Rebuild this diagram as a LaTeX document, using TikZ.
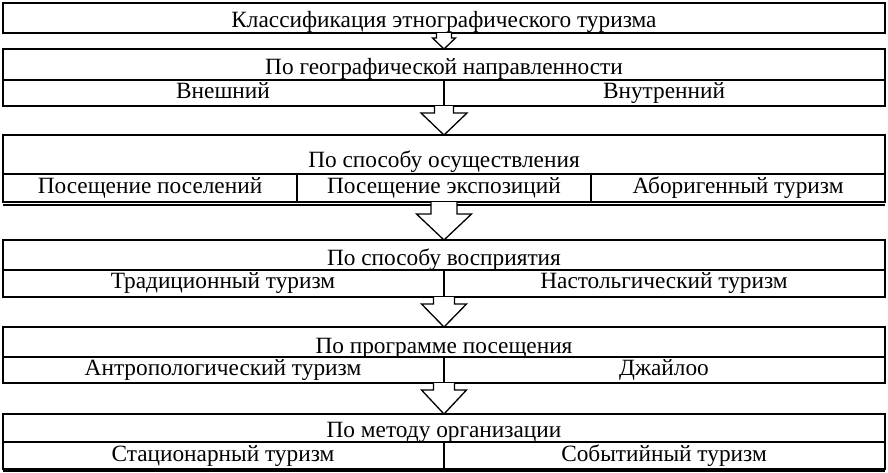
\documentclass[tikz,border=0pt]{standalone}
\usepackage{fontspec}
\setmainfont{Liberation Serif}
\usetikzlibrary{calc}
% #1 start point (node.anchor), #2 tip point (node.anchor), #3 shaft half width, #4 head half width, #5 shaft length
\newcommand\hollowarrow[5]{%
  \draw[harrow] ($(#1)+(-#3,0)$) -- ($(#1)+(-#3,#5)$) -- ($(#1)+(-#4,#5)$)
    -- (#2) -- ($(#1)+(#4,#5)$) -- ($(#1)+(#3,#5)$) -- ($(#1)+(#3,0)$);}
\begin{document}
\begin{tikzpicture}[x=1pt,y=-1pt,
  row/.style={draw, line width=1.5pt, inner sep=0pt, outer sep=0pt, anchor=north west, minimum width=882pt},
  cell/.style={draw, line width=1.5pt, inner sep=0pt, outer sep=0pt, anchor=north west},
  lbl/.style={anchor=base, inner sep=0pt, font=\fontsize{23.3}{24}\selectfont},
  harrow/.style={draw, line width=1.3pt, fill=white, line join=miter}]
\useasboundingbox (0,0) rectangle (888,472);
% box 1
\node[row, minimum height=30pt] (b1) at (3,3) {};
\node[lbl] (t1) at (444,27) {Классификация этнографического туризма};
% box 2
\node[row, minimum height=31pt] (b2t) at (3,49) {};
\node[cell, minimum width=441pt, minimum height=26pt] (b2l) at (3,80) {};
\node[cell, minimum width=441pt, minimum height=26pt] (b2r) at (444,80) {};
\node[lbl] (t2) at (444,74) {По географической направленности};
\node[lbl] (t2l) at (223,98) {Внешний};
\node[lbl] (t2r) at (664,98) {Внутренний};
% box 3
\node[row, minimum height=39pt] (b3t) at (3,135) {};
\node[cell, minimum width=294pt, minimum height=28pt] (b3a) at (3,174) {};
\node[cell, minimum width=294pt, minimum height=28pt] (b3b) at (297,174) {};
\node[cell, minimum width=294pt, minimum height=28pt] (b3c) at (591,174) {};
\draw[line width=1.2pt] ($(b3a.south west)+(0,3)$) coordinate (b3dl) -- ($(b3c.south east)+(0,3)$) coordinate (b3dr);
\node[lbl] (t3) at (444,167) {По способу осуществления};
\node[lbl] (t3a) at (150,193) {Посещение поселений};
\node[lbl] (t3b) at (444,193) {Посещение экспозиций};
\node[lbl] (t3c) at (738,193) {Аборигенный туризм};
% box 4
\node[row, minimum height=30pt] (b4t) at (3,240) {};
\node[cell, minimum width=441pt, minimum height=27pt] (b4l) at (3,270) {};
\node[cell, minimum width=441pt, minimum height=27pt] (b4r) at (444,270) {};
\node[lbl] (t4) at (444,265) {По способу восприятия};
\node[lbl] (t4l) at (223,288) {Традиционный туризм};
\node[lbl] (t4r) at (664,288) {Настольгический туризм};
% box 5
\node[row, minimum height=30pt] (b5t) at (3,327) {};
\node[cell, minimum width=441pt, minimum height=26pt] (b5l) at (3,357) {};
\node[cell, minimum width=441pt, minimum height=26pt] (b5r) at (444,357) {};
\node[lbl] (t5) at (444,353) {По программе посещения};
\node[lbl] (t5l) at (223,375) {Антропологический туризм};
\node[lbl] (t5r) at (664,375) {Джайлоо};
% box 6
\node[row, minimum height=28pt] (b6t) at (3,414) {};
\node[cell, minimum width=441pt, minimum height=27pt] (b6l) at (3,442) {};
\node[cell, minimum width=441pt, minimum height=27pt] (b6r) at (444,442) {};
\draw[line width=1.2pt] ($(b6l.south west)+(0,2)$) coordinate (b6dl) -- ($(b6r.south east)+(0,2)$) coordinate (b6dr);
\node[lbl] (t6) at (444,437) {По методу организации};
\node[lbl] (t6l) at (223,461) {Стационарный туризм};
\node[lbl] (t6r) at (664,461) {Событийный туризм};
% hollow block arrows
\hollowarrow{b1.south}{b2t.north}{7.5}{11.5}{5}
\hollowarrow{b2r.south west}{b3t.north}{9.5}{23}{7}
\hollowarrow{b3b.south}{b4t.north}{13}{27.5}{12}
\hollowarrow{b4r.south west}{b5t.north}{10.5}{22.5}{7}
\hollowarrow{b5r.south west}{b6t.north}{10.5}{22.5}{7}
\end{tikzpicture}
\end{document}
